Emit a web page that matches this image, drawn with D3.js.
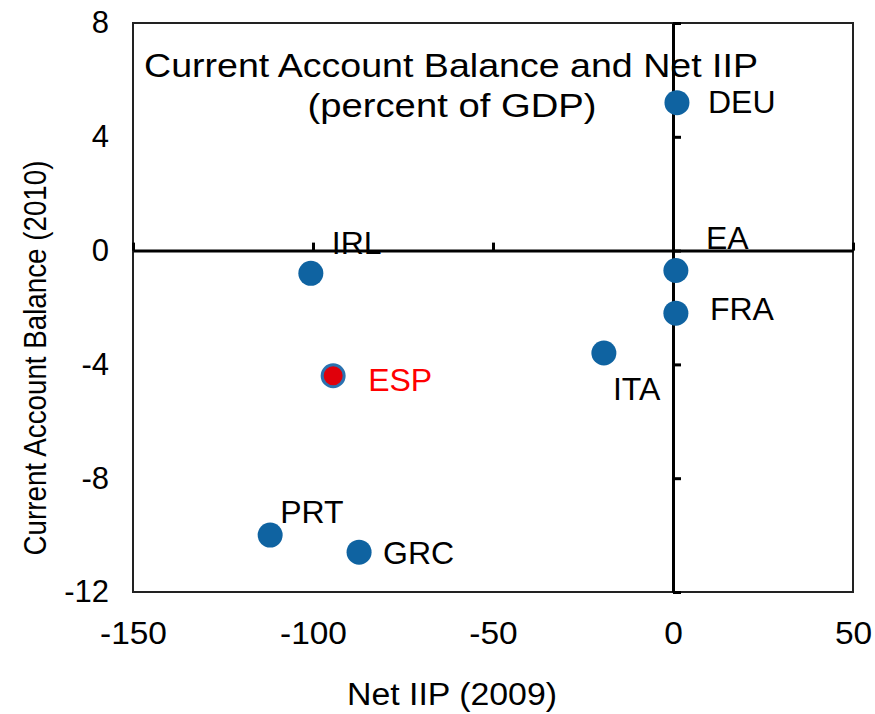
<!DOCTYPE html>
<html>
<head>
<meta charset="utf-8">
<script src="https://cdn.jsdelivr.net/npm/d3@7"></script>
<style>
  body { margin: 0; background: #fff; }
  svg { display: block; font-family: "Liberation Sans", Arial, sans-serif; }
  .lbl { font-size: 32px; fill: #000; }
  .tick text { font-size: 31px; fill: #000; }
</style>
</head>
<body>
<div id="chart"></div>
<script>
// data
var countries = ["DEU", "EA", "FRA", "ITA", "IRL", "ESP", "PRT", "GRC"];
var netIIP    = [1.1, 0.8, 0.8, -19.2, -100.6, -94.4, -111.9, -87.2];
var curAcc    = [5.2, -0.7, -2.2, -3.6, -0.8, -4.4, -10.0, -10.6];
var xTicks = [-150, -100, -50, 0, 50];
var yTicks = [-12, -8, -4, 0, 4, 8];

// label placement relative to the dot (pixels)
var labelOffset = {
  DEU: [31, 10], EA: [30, -22], FRA: [34, 7], ITA: [9, 47],
  IRL: [21, -19], ESP: [35, 15], PRT: [10, -12], GRC: [24, 12]
};

var W = 875, H = 714,
    margin = {top: 23, right: 22, bottom: 122, left: 133},
    width = W - margin.left - margin.right,
    height = H - margin.top - margin.bottom;

var svg = d3.select("#chart").append("svg")
    .attr("width", W)
    .attr("height", H);

var g = svg.append("g")
    .attr("transform", "translate(" + margin.left + "," + margin.top + ")");

var x = d3.scaleLinear().domain([-150, 50]).range([0, width]);
var y = d3.scaleLinear().domain([-12, 8]).range([height, 0]);

// plain hyphen for negatives, like the original
var fmt = function(d) { return String(d); };

// frame
g.append("rect")
  .attr("width", width)
  .attr("height", height)
  .attr("fill", "none")
  .attr("stroke", "#222")
  .attr("stroke-width", 2);

// tick labels on the frame edges
var yLab = g.append("g")
  .call(d3.axisLeft(y).tickValues(yTicks).tickSize(0).tickPadding(24).tickFormat(fmt));
yLab.select(".domain").remove();

var xLab = g.append("g")
  .attr("transform", "translate(0," + height + ")")
  .call(d3.axisBottom(x).tickValues(xTicks).tickSize(0).tickPadding(30).tickFormat(fmt));
xLab.select(".domain").remove();
xLab.selectAll(".tick text").attr("transform", "scale(1.08,1)");

// zero lines with ticks
var xZero = g.append("g")
  .attr("transform", "translate(0," + y(0) + ")")
  .call(d3.axisTop(x).tickValues(xTicks).tickSizeInner(8).tickSizeOuter(0).tickFormat(""));
xZero.select(".domain").attr("stroke", "#000").attr("stroke-width", 3);
xZero.selectAll(".tick line").attr("stroke", "#000").attr("stroke-width", 3);

var yZero = g.append("g")
  .attr("transform", "translate(" + x(0) + ",0)")
  .call(d3.axisRight(y).tickValues(yTicks).tickSizeInner(8).tickSizeOuter(0).tickFormat(""));
yZero.select(".domain").attr("stroke", "#000").attr("stroke-width", 3);
yZero.selectAll(".tick line").attr("stroke", "#000").attr("stroke-width", 3);

// points
var pts = countries.map(function(c, i) {
  return {name: c, x: netIIP[i], y: curAcc[i]};
});

g.selectAll("circle.pt")
  .data(pts)
  .enter().append("circle")
  .attr("class", "pt")
  .attr("cx", function(d) { return x(d.x); })
  .attr("cy", function(d) { return y(d.y); })
  .attr("r", function(d) { return d.name === "ESP" ? 11 : 12.5; })
  .attr("fill", function(d) { return d.name === "ESP" ? "#e0000b" : "#0f63a1"; })
  .attr("stroke", function(d) { return d.name === "ESP" ? "#2a72b0" : "none"; })
  .attr("stroke-width", 3);

g.selectAll("text.pt-label")
  .data(pts)
  .enter().append("text")
  .attr("class", "lbl pt-label")
  .attr("x", function(d) { return x(d.x) + labelOffset[d.name][0]; })
  .attr("y", function(d) { return y(d.y) + labelOffset[d.name][1]; })
  .style("fill", function(d) { return d.name === "ESP" ? "#ff0000" : "#000"; })
  .text(function(d) { return d.name; });

// title inside the plot
svg.append("text")
  .attr("x", 451).attr("y", 77)
  .attr("text-anchor", "middle")
  .style("font-size", "33px")
  .attr("textLength", 614)
  .attr("lengthAdjust", "spacingAndGlyphs")
  .text("Current  Account Balance and Net IIP");

svg.append("text")
  .attr("x", 452).attr("y", 117)
  .attr("text-anchor", "middle")
  .style("font-size", "33px")
  .attr("textLength", 289)
  .attr("lengthAdjust", "spacingAndGlyphs")
  .text("(percent of GDP)");

// axis titles
svg.append("text")
  .attr("x", 452).attr("y", 705)
  .attr("text-anchor", "middle")
  .style("font-size", "31px")
  .attr("textLength", 210)
  .attr("lengthAdjust", "spacingAndGlyphs")
  .text("Net IIP (2009)");

svg.append("text")
  .attr("transform", "translate(46,358) rotate(-90)")
  .attr("text-anchor", "middle")
  .style("font-size", "31px")
  .attr("textLength", 395)
  .attr("lengthAdjust", "spacingAndGlyphs")
  .text("Current Account Balance (2010)");
</script>
</body>
</html>
